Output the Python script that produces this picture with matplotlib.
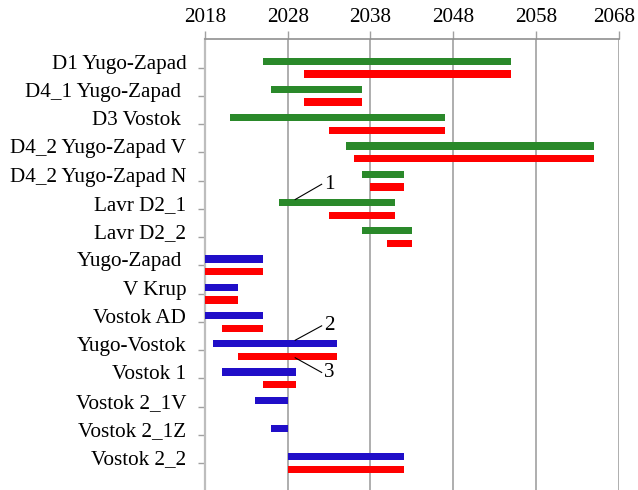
import matplotlib
matplotlib.use("Agg")
import matplotlib.pyplot as plt
import matplotlib.transforms as mtransforms

plt.rcParams['font.family'] = ['Liberation Serif', 'DejaVu Serif']

categories = ["D1 Yugo-Zapad", "D4_1 Yugo-Zapad ", "D3 Vostok ", "D4_2 Yugo-Zapad V",
              "D4_2 Yugo-Zapad N", "Lavr D2_1", "Lavr D2_2", "Yugo-Zapad ", "V Krup",
              "Vostok AD", "Yugo-Vostok", "Vostok 1", "Vostok 2_1V", "Vostok 2_1Z", "Vostok 2_2"]
# first bar (green for first 7 rows, blue for others)
top_start = [2025, 2026, 2021, 2035, 2037, 2027, 2037, 2018, 2018, 2018, 2019, 2020, 2024, 2026, 2028]
top_end   = [2055, 2037, 2047, 2065, 2042, 2041, 2043, 2025, 2022, 2025, 2034, 2029, 2028, 2028, 2042]
# second (red) bar; None = no bar
red_start = [2030, 2030, 2033, 2036, 2038, 2033, 2040, 2018, 2018, 2020, 2022, 2025, None, None, 2028]
red_end   = [2055, 2037, 2047, 2065, 2042, 2041, 2043, 2025, 2022, 2025, 2034, 2029, None, None, 2042]
top_colors = ["#2a892a"] * 7 + ["#200ec8"] * 8
red_color = "#ff0000"

xticks = [2018, 2028, 2038, 2048, 2058, 2068]

W, H = 638, 490
fig = plt.figure(figsize=(W / 100, H / 100), dpi=100)
left, right, top = 205 / W, 618.7 / W, 1 - 39.3 / H
ax = fig.add_axes([left, 0, right - left, top])

bh = 0.26
off = 0.225
for i in range(len(categories)):
    ax.barh(i - off, top_end[i] - top_start[i], left=top_start[i], height=bh,
            color=top_colors[i], zorder=3)
    if red_start[i] is not None:
        ax.barh(i + off, red_end[i] - red_start[i], left=red_start[i], height=bh,
                color=red_color, zorder=3)

fs = 15.2
ax.set_xlim(2018, 2068)
ax.set_ylim(14.95, -1)
ax.xaxis.tick_top()
ax.set_xticks(xticks)
ax.set_xticklabels([str(t) for t in xticks], fontsize=fs)
ax.tick_params(axis='x', length=6, width=1, color='#a0a0a0', pad=3)
ax.set_yticks(range(len(categories)))
ax.set_yticklabels(categories, fontsize=fs)
ax.tick_params(axis='y', length=5, width=1, color='#a0a0a0', pad=8.5)
offset = mtransforms.ScaledTranslation(0, 6 / 100, fig.dpi_scale_trans)
for lab in ax.get_yticklabels():
    lab.set_transform(lab.get_transform() + offset)
xlabs = ax.get_xticklabels()
last_off = mtransforms.ScaledTranslation(-5 / 100, 0, fig.dpi_scale_trans)
xlabs[-1].set_transform(xlabs[-1].get_transform() + last_off)

for t in xticks:
    ax.axvline(t, color='#a8a8a8', lw=1.3, zorder=1)
for s in ['bottom', 'right']:
    ax.spines[s].set_visible(False)
ax.spines['top'].set_color('#909090')
ax.spines['top'].set_linewidth(1.2)
ax.spines['left'].set_color('#bdbdbd')
ax.spines['left'].set_linewidth(1.6)

# annotations
anns = [("1", (2028.9, 4.67), (2032.1, 4.13)),
        ("2", (2028.9, 9.65), (2032.1, 9.14)),
        ("3", (2028.9, 10.27), (2032.1, 10.79))]
for txt, p0, p1 in anns:
    ax.plot([p0[0], p1[0]], [p0[1], p1[1]], color='black', lw=0.8, zorder=4)
    ax.text(p1[0] + 0.25, p1[1], txt, fontsize=fs, ha='left', va='center', zorder=4)

fig.savefig("out.png", dpi=100)
